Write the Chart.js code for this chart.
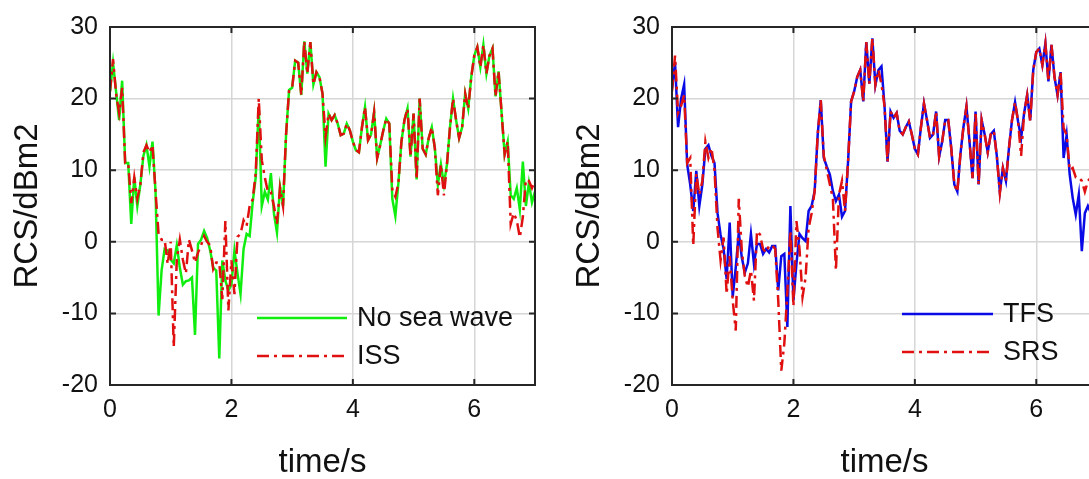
<!DOCTYPE html>
<html>
<head>
<meta charset="utf-8">
<script src="https://cdn.jsdelivr.net/npm/chart.js@4/dist/chart.umd.min.js"></script>
<style>
html, body { margin: 0; padding: 0; background: #fff; overflow: hidden; width: 1089px; height: 479px; }
.wrap { position: absolute; top: 0; width: 545px; height: 479px; }
</style>
</head>
<body>
<div class="wrap" style="left:0"><canvas id="left"></canvas></div>
<div class="wrap" style="left:562px"><canvas id="right"></canvas></div>
<script>
// time axis, seconds
const time = [
  0, 0.05, 0.1, 0.15, 0.2, 0.25, 0.3, 0.35, 0.4, 0.45, 0.5, 0.55, 0.6, 0.65, 0.7, 0.75, 0.8, 0.85, 0.9, 0.95,
  1, 1.05, 1.1, 1.15, 1.2, 1.25, 1.3, 1.35, 1.4, 1.45, 1.5, 1.55, 1.6, 1.65, 1.7, 1.75, 1.8, 1.85, 1.9, 1.95,
  2, 2.05, 2.1, 2.15, 2.2, 2.25, 2.3, 2.35, 2.4, 2.45, 2.5, 2.55, 2.6, 2.65, 2.7, 2.75, 2.8, 2.85, 2.9, 2.95,
  3, 3.05, 3.1, 3.15, 3.2, 3.25, 3.3, 3.35, 3.4, 3.45, 3.5, 3.55, 3.6, 3.65, 3.7, 3.75, 3.8, 3.85, 3.9, 3.95,
  4, 4.05, 4.1, 4.15, 4.2, 4.25, 4.3, 4.35, 4.4, 4.45, 4.5, 4.55, 4.6, 4.65, 4.7, 4.75, 4.8, 4.85, 4.9, 4.95,
  5, 5.05, 5.1, 5.15, 5.2, 5.25, 5.3, 5.35, 5.4, 5.45, 5.5, 5.55, 5.6, 5.65, 5.7, 5.75, 5.8, 5.85, 5.9, 5.95,
  6, 6.05, 6.1, 6.15, 6.2, 6.25, 6.3, 6.35, 6.4, 6.45, 6.5, 6.55, 6.6, 6.65, 6.7, 6.75, 6.8, 6.85, 6.9, 6.95, 7
];

// left panel
const noSeaWave = [
  21, 25, 21, 17, 22.5, 11, 11, 2.5, 9, 5, 8, 12, 13.5, 10.5, 14, 7, -10.3, -4, -1, -1.2,
  -2.5, -3, -0.5, -3.6, -6, -5.5, -5.4, -5, -13, -0.3, 0.3, 1.5, 0.5, -1.2, -3.6, -4, -16.3, -2.6, -5.4, -6.8,
  -6, -1.2, -4.4, -7.3, -1, 1.1, 0.8, 5.5, 9, 18.8, 5, 7, 5.9, 9.6, 4, 1.3, 7.7, 5, 15, 21.2,
  21.5, 25.3, 25, 20.5, 28, 23.5, 27.9, 22, 23.7, 23, 20.7, 10.5, 17.9, 17, 17.7, 16.5, 14.9, 15.1, 16.5, 15.6,
  14, 12.8, 12.5, 16, 18.8, 14.2, 15, 18.1, 11.7, 13.5, 15.5, 17.2, 16.5, 6, 3.6, 8.2, 14, 17, 18.6, 11.9,
  17.9, 8.7, 20, 13, 12.2, 14.5, 16, 13.1, 8, 10.8, 8, 10.8, 16, 20, 17, 14.5, 16, 20.7, 18.6, 23,
  26, 27.2, 24.4, 27.5, 23.5, 26, 27, 20.3, 23.8, 18, 12.2, 14, 6.5, 6, 7.5, 4.5, 11.2, 5, 8.2, 5.5, 7
];
const iss = [
  21, 25.5, 20.7, 18, 21.5, 11, 11, 5.4, 9, 6, 8, 12.5, 13.5, 12.5, 13.5, 7, 1.1, 0.3, 0.3, -3.1,
  0, -14.7, -2.5, 0.3, -2.5, -4.4, 0.3, -1.2, -2.9, -1.5, -0.5, 0.8, 0, -0.5, -3.8, -2.9, -2.9, -8, 2.9, -9.6,
  -2.6, -7.3, 0.7, 1.1, 3, 2.2, 5, 5.9, 9.6, 20, 11.4, 9, 7, 7, 5, 2.5, 7.5, 5, 15, 21.2,
  21.5, 25.3, 25, 20.5, 28, 23.5, 27.9, 22, 23.7, 23, 20.7, 14.7, 17.9, 17, 17.7, 16.5, 14.9, 15.1, 16.5, 15.6,
  14, 12.8, 12.5, 16, 18.8, 14.2, 15, 18.1, 11.7, 13.5, 15.5, 17.2, 16.5, 7.3, 6.3, 8.2, 14, 17, 18.6, 11.9,
  17.9, 8.7, 20, 13, 12.2, 14.5, 16, 13.1, 6.5, 10.8, 6.5, 10.8, 16, 20, 17, 14.5, 16, 20.7, 18.6, 23,
  26, 27.2, 24.4, 27.5, 23.5, 26, 27, 20.3, 23.8, 18, 12.2, 14, 2.5, 4, 3, 0.6, 3.5, 8.7, 8.5, 7.5, 8.5
];

// right panel
const tfs = [
  21.4, 25, 16, 20, 22, 10.8, 8, 4.3, 9.9, 5, 8, 13, 13.5, 12, 11, 4, 1, -1, -5.2, 2.7,
  -7.7, -3.6, 1.3, -2.2, -4.3, -3, 1.1, -3.1, -0.3, -0.3, -1.7, -1, -1.5, -0.6, -0.6, -6.8, -2, -1.7, -11.9, 5,
  -8.2, -3, 1.1, 0.5, 0.1, 4.3, 5, 7.1, 15, 19.8, 11.7, 10.5, 9.4, 7.1, 5.7, 6.6, 3.5, 4.3, 11.2, 19.6,
  21, 23, 24, 19.6, 27.9, 22.1, 28.4, 21.9, 24, 24.5, 19, 11.2, 18.2, 17.3, 18, 15.5, 15, 16, 16.8, 15,
  13, 12.2, 16, 19.3, 17, 14.5, 15, 18.2, 11.9, 14, 17, 17, 13, 8, 7, 12.2, 16, 18.9, 14, 8.9,
  18.2, 8, 17, 15, 12.5, 15, 15.5, 12, 7, 10.3, 8.5, 13.1, 17, 19.5, 16.8, 14.5, 18, 20.5, 17, 24,
  26.5, 27, 24.7, 27.7, 22.4, 27.5, 23, 20.5, 23.7, 11.7, 14.9, 9.4, 6.1, 3.8, 6.6, -1.3, 4, 5, 4, 6, 5
];
const srs = [
  21, 26, 18, 19, 20.5, 11, 11.7, -0.5, 9.5, 6.6, 8.5, 14, 11.7, 13.1, 10, 1.9, -2.6, 0.6, -7.3, -2,
  -8.2, -12.4, 6, -1.2, -4.9, -6.3, -4, -8.2, 1.5, 1, -1, -1.5, -0.5, -0.5, -1, -8.2, -18, -14.2, -7, 1.5,
  -9, 2.9, -1, -7.7, -5, 1.9, 4, 7.1, 15, 19.8, 12, 10, 8, 6, -4, 6.6, 8.5, 4.3, 11.2, 19.6,
  21, 23, 24, 19.6, 27.9, 22.1, 28.4, 21.9, 24, 22, 19, 11.2, 18.2, 17.3, 18, 15.5, 15, 16, 16.8, 15,
  13, 12.2, 16, 19.3, 17, 14.5, 15, 18.2, 11.9, 14, 17, 17, 13, 8, 7, 12.2, 16, 18.9, 14, 8.9,
  18.2, 8, 17, 15, 12.5, 15, 15.5, 12, 6.8, 10.3, 8.5, 13.1, 17, 19.5, 16.8, 12, 18, 20.5, 16.8, 24,
  26.5, 27, 24.7, 27.7, 22.4, 27.5, 23, 20.5, 23.7, 15.9, 14.9, 10, 10.3, 9, 9, 8.5, 7, 8.5, 9, 8, 8.5
];

const xTicks = [0, 2, 4, 6];
const yTicks = [-20, -10, 0, 10, 20, 30];

const FONT = '"Liberation Sans", Arial, Helvetica, sans-serif';
const DASHDOT = [12, 5, 3, 5];

const pts = arr => time.map((t, i) => ({ x: t, y: arr[i] }));

// MATLAB style box with inward ticks
const boxTicks = {
    id: 'boxTicks',
    afterDatasetsDraw(chart) {
        const { ctx, chartArea: a, scales: { x, y } } = chart;
        ctx.save();
        ctx.setLineDash([]);
        ctx.strokeStyle = '#262626';
        ctx.lineWidth = 2;
        ctx.strokeRect(a.left, a.top, a.right - a.left, a.bottom - a.top);
        ctx.beginPath();
        x.ticks.forEach(t => {
            const px = x.getPixelForValue(t.value);
            ctx.moveTo(px, a.bottom); ctx.lineTo(px, a.bottom - 6);
            ctx.moveTo(px, a.top); ctx.lineTo(px, a.top + 6);
        });
        y.ticks.forEach(t => {
            const py = y.getPixelForValue(t.value);
            ctx.moveTo(a.left, py); ctx.lineTo(a.left + 6, py);
            ctx.moveTo(a.right, py); ctx.lineTo(a.right - 6, py);
        });
        ctx.stroke();
        ctx.restore();
    }
};

// legend with long line samples, no frame
const lineLegend = {
    id: 'lineLegend',
    afterDraw(chart, args, opts) {
        const ctx = chart.ctx;
        ctx.save();
        ctx.font = '27px ' + FONT;
        ctx.textBaseline = 'middle';
        ctx.fillStyle = '#111';
        chart.data.datasets.forEach((ds, i) => {
            const y = opts.y + i * opts.gap;
            ctx.strokeStyle = ds.borderColor;
            ctx.lineWidth = 2.5;
            ctx.setLineDash(ds.borderDash || []);
            ctx.beginPath();
            ctx.moveTo(opts.x, y);
            ctx.lineTo(opts.x + opts.len, y);
            ctx.stroke();
            ctx.fillText(ds.label, opts.x + opts.len + 10, y + 1);
        });
        ctx.restore();
    }
};

const makeChart = (id, sets, legendPos) => new Chart(document.getElementById(id), {
    type: 'line',
    data: {
        datasets: sets.map((s, i) => ({
            label: s.label,
            data: pts(s.values),
            borderColor: s.color,
            borderWidth: 2.5,
            borderDash: s.dash,
            pointRadius: 0,
            tension: 0,
            order: sets.length - i
        }))
    },
    options: {
        responsive: true,
        maintainAspectRatio: false,
        animation: false,
        devicePixelRatio: 1,
        layout: { padding: { left: 0, top: 25, right: 10, bottom: 0 } },
        plugins: {
            legend: { display: false },
            tooltip: { enabled: false },
            lineLegend: legendPos
        },
        scales: {
            x: {
                type: 'linear', min: 0, max: 7,
                afterFit: s => { s.height = 94; },
                afterBuildTicks: s => { s.ticks = xTicks.map(v => ({ value: v })); },
                grid: { color: '#d6d6d6', lineWidth: 1.5, drawTicks: false },
                border: { display: false },
                ticks: { padding: 10, color: '#111', font: { family: FONT, size: 25 }, maxRotation: 0 },
                title: { display: true, text: 'time/s', color: '#111', font: { family: FONT, size: 33, lineHeight: 1 }, padding: { top: 0, bottom: 0 } }
            },
            y: {
                type: 'linear', min: -20, max: 30,
                afterFit: s => { s.width = 110; },
                afterBuildTicks: s => { s.ticks = yTicks.map(v => ({ value: v })); },
                grid: { color: '#d6d6d6', lineWidth: 1.5, drawTicks: false },
                border: { display: false },
                ticks: { padding: 12, color: '#111', font: { family: FONT, size: 25 } },
                title: { display: true, text: 'RCS/dBm2', color: '#111', font: { family: FONT, size: 33, lineHeight: 1 }, padding: { top: 11, bottom: 0 } }
            }
        }
    },
    plugins: [boxTicks, lineLegend]
});

makeChart('left', [
    { label: 'No sea wave', values: noSeaWave, color: '#10ee10', dash: [] },
    { label: 'ISS', values: iss, color: '#e01010', dash: DASHDOT }
], { x: 257, y: 318, gap: 38, len: 90 });

makeChart('right', [
    { label: 'TFS', values: tfs, color: '#0a0ae6', dash: [] },
    { label: 'SRS', values: srs, color: '#e01010', dash: DASHDOT }
], { x: 340, y: 314, gap: 38, len: 91 });
</script>
</body>
</html>
